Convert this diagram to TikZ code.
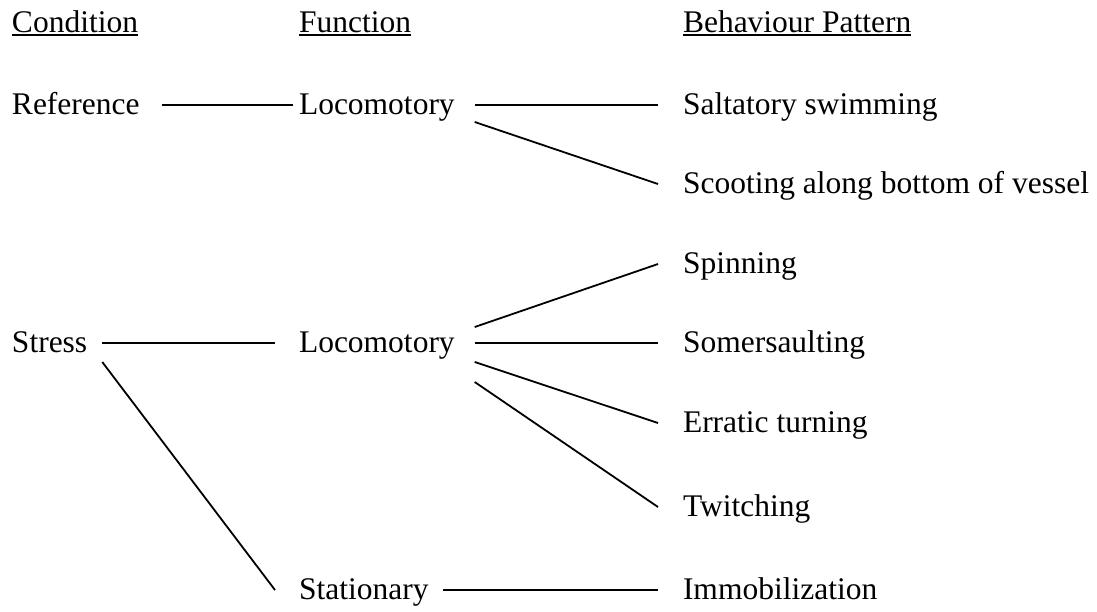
\documentclass[tikz,border=0pt]{standalone}
\usepackage{fontspec}
\setmainfont{Liberation Serif}
\begin{document}
\begin{tikzpicture}[x=1pt,y=-1pt,
  lbl/.style={anchor=base west,inner sep=0pt,outer sep=0pt,font=\fontsize{31.5}{38}\selectfont},
  link/.style={line width=1.8pt,line cap=butt},
  uline/.style={line width=2.2pt}]
\useasboundingbox (0,0) rectangle (1097,611);

% column headings
\node[lbl] (hcond) at (12,32) {Condition};
\node[lbl] (hfunc) at (299,32) {Function};
\node[lbl] (hbeh)  at (683,32) {Behaviour Pattern};
\foreach \h in {hcond,hfunc,hbeh}
  \draw[uline] ([yshift=-3pt]\h.base west) -- ([yshift=-3pt]\h.base east);

% conditions
\node[lbl] (ref) at (12,114) {Reference};
\node[lbl] (str) at (12,352) {Stress};

% functions
\node[lbl] (loca) at (299,114) {Locomotory};
\node[lbl] (locb) at (299,352) {Locomotory};
\node[lbl] (sta)  at (299,599) {Stationary};

% behaviour patterns
\node[lbl] (sal) at (683,114) {Saltatory swimming};
\node[lbl] (sco) at (683,193) {Scooting along bottom of vessel};
\node[lbl] (spi) at (683,273) {Spinning};
\node[lbl] (som) at (683,352) {Somersaulting};
\node[lbl] (err) at (683,432) {Erratic turning};
\node[lbl] (twi) at (683,516) {Twitching};
\node[lbl] (imm) at (683,599) {Immobilization};

% condition -> function
\draw[link] ([shift={(22pt,9pt)}]ref.base east) -- ([shift={(-6pt,9pt)}]loca.base west);
\draw[link] ([shift={(15pt,9pt)}]str.base east) -- ([shift={(-24pt,9pt)}]locb.base west);
\draw[link] ([shift={(15pt,-10pt)}]str.base east) -- ([shift={(-24pt,9pt)}]sta.base west);

% function -> behaviour
\draw[link] ([shift={(20pt,9pt)}]loca.base east) -- ([shift={(-25pt,9pt)}]sal.base west);
\draw[link] ([shift={(20pt,-8pt)}]loca.base east) -- ([shift={(-25pt,9pt)}]sco.base west);
\draw[link] ([shift={(20pt,25pt)}]locb.base east) -- ([shift={(-25pt,9pt)}]spi.base west);
\draw[link] ([shift={(20pt,9pt)}]locb.base east) -- ([shift={(-25pt,9pt)}]som.base west);
\draw[link] ([shift={(20pt,-10pt)}]locb.base east) -- ([shift={(-25pt,9pt)}]err.base west);
\draw[link] ([shift={(20pt,-30pt)}]locb.base east) -- ([shift={(-25pt,9pt)}]twi.base west);
\draw[link] ([shift={(15pt,9pt)}]sta.base east) -- ([shift={(-25pt,9pt)}]imm.base west);
\end{tikzpicture}
\end{document}
